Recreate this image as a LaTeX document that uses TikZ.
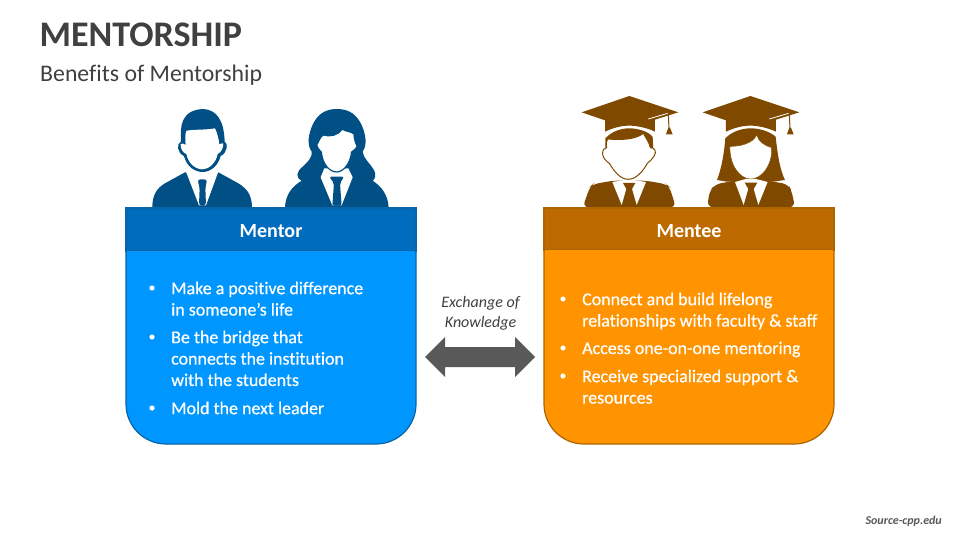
\documentclass[tikz,border=0pt]{standalone}
\usepackage{fontspec}
\setmainfont{Carlito}[Ligatures=NoCommon]
\newfontfamily\medfont{Carlito}[Ligatures=NoCommon,FakeBold=0.5]
\definecolor{blueBody}{HTML}{0096FF}
\definecolor{blueHead}{HTML}{006CBD}
\definecolor{blueEdge}{HTML}{0A64A8}
\definecolor{blueIcon}{HTML}{004F85}
\definecolor{orBody}{HTML}{FF9300}
\definecolor{orHead}{HTML}{BD6B00}
\definecolor{orEdge}{HTML}{AD6500}
\definecolor{orIcon}{HTML}{7F4A00}
\definecolor{arrowGrey}{HTML}{595959}
\definecolor{titleGrey}{HTML}{404040}
\tikzset{
  cardhead/.style={line width=1.2pt},
  headtext/.style={font=\fontsize{20}{24}\selectfont\bfseries,text=white,anchor=center},
  bullettext/.style={font=\fontsize{17.95}{21.4}\medfont,text=white,align=left,anchor=north west,inner sep=0pt},
  dotnode/.style={circle,fill=white,minimum size=5.2pt,inner sep=0pt},
}
\begin{document}
\begin{tikzpicture}[x=1pt,y=-1pt]
\useasboundingbox (0,0) rectangle (960,540);
\fill[white] (0,0) rectangle (960,540);

\node[anchor=west,inner sep=0pt,font=\fontsize{36}{40}\selectfont\bfseries,text=titleGrey] (title) at (39.5,35) {MENTORSHIP};
\node[anchor=west,inner sep=0pt,font=\fontsize{23.8}{28}\selectfont,text=titleGrey] (subtitle) at (40,75) {Benefits of Mentorship};

% ---------- mentor icons
\begin{scope}[shift={(120,90)},x=0.3333pt,y=-0.3333pt]
  % man
  \fill[blueIcon] (97,352) .. controls (97,315) and (110,295) .. (135,280) -- (195,247) -- (295,247) -- (355,280) .. controls (380,295) and (396,315) .. (396,352) -- cycle;
  \fill[white] (198,245) -- (295,245) -- (258,346) -- (237,346) -- cycle;
  \fill[blueIcon,rounded corners=3pt] (232,268) -- (262,268) -- (256,292) -- (258,347) -- (237,347) -- (239,292) -- cycle;
  \fill[blueIcon] (183,155) .. controls (180,110) and (182,60) .. (250,57)
     .. controls (290,60) and (312,90) .. (314,155) .. controls (325,158) and (322,190) .. (302,198)
     .. controls (292,235) and (265,246) .. (248,246) .. controls (225,246) and (200,230) .. (192,198)
     .. controls (172,190) and (168,160) .. (183,155) -- cycle;
  \fill[white] (197,165) .. controls (195,145) and (195,130) .. (200,122)
     .. controls (225,118) and (260,120) .. (285,115) .. controls (292,130) and (296,145) .. (298,163)
     .. controls (303,163) and (306,158) .. (309,160) .. controls (312,172) and (303,188) .. (293,192)
     .. controls (288,220) and (265,238) .. (248,238) .. controls (225,238) and (205,220) .. (199,192)
     .. controls (190,190) and (180,175) .. (182,162) .. controls (187,158) and (192,162) .. (197,165) -- cycle;
  % woman
  \fill[blueIcon] (495,352) .. controls (497,315) and (515,290) .. (545,272)
     .. controls (525,262) and (530,245) .. (548,230) .. controls (565,215) and (578,200) .. (575,185)
     .. controls (560,165) and (565,130) .. (580,100) .. controls (595,70) and (620,57) .. (650,57)
     .. controls (690,57) and (710,75) .. (725,105) .. controls (738,135) and (742,165) .. (728,185)
     .. controls (730,205) and (750,220) .. (762,240) .. controls (770,255) and (765,268) .. (758,272)
     .. controls (785,290) and (804,315) .. (806,352) -- cycle;
  \fill[white] (602,262) -- (613,235) -- (685,235) -- (698,262) -- (665,346) -- (637,346) -- cycle;
  \fill[blueIcon,rounded corners=2pt] (628,260) -- (672,260) -- (660,280) -- (665,347) -- (637,347) -- (642,280) -- cycle;
  \fill[white,draw=blueIcon,line width=1.2pt] (590,165) .. controls (597,155) and (600,140) .. (610,135)
     .. controls (630,142) and (655,135) .. (667,118) .. controls (680,125) and (695,125) .. (702,132)
     .. controls (703,150) and (707,160) .. (712,170) .. controls (708,178) and (700,180) .. (695,186)
     .. controls (690,225) and (668,246) .. (650,246) .. controls (630,246) and (608,225) .. (604,186)
     .. controls (598,180) and (592,175) .. (590,165) -- cycle;
\end{scope}

% ---------- mentee icons
\begin{scope}[shift={(540,85)},x=0.3333pt,y=-0.3333pt]
  % man
  \fill[orIcon,rounded corners=6pt] (128,367) -- (150,305) -- (158,298) -- (218,287) -- (318,287) -- (380,298) -- (388,305) -- (408,367) -- cycle;
  \fill[white] (217,291) -- (265,283) -- (318,291) -- (290,360) -- (267,318) -- (245,360) -- cycle;
  \fill[orIcon] (249,294) -- (286,294) -- (276,312) -- (290,361) -- (245,361) -- (259,312) -- cycle;
  \fill[orIcon] (196,160) .. controls (215,140) and (240,130) .. (268,130) .. controls (295,130) and (325,140) .. (338,155) -- (340,195) -- (196,195) -- cycle;
  \fill[white,draw=orIcon,line width=1pt] (200,188) .. controls (198,175) and (198,170) .. (203,162)
     .. controls (240,165) and (285,165) .. (310,145) .. controls (318,160) and (328,172) .. (331,188)
     .. controls (345,188) and (350,200) .. (343,212) .. controls (338,222) and (330,228) .. (322,235)
     .. controls (310,258) and (288,283) .. (265,283) .. controls (240,283) and (222,258) .. (208,235)
     .. controls (198,228) and (190,220) .. (188,208) .. controls (187,195) and (192,188) .. (200,188) -- cycle;
  % woman
  \fill[orIcon,rounded corners=6pt] (502,367) -- (508,320) -- (525,298) -- (585,287) -- (683,287) -- (745,298) -- (755,318) -- (765,367) -- cycle;
  \fill[orIcon] (556,160) .. controls (575,140) and (605,130) .. (632,130) .. controls (660,130) and (690,140) .. (707,155)
     .. controls (712,200) and (718,250) .. (735,285) -- (700,290) -- (560,290) -- (531,285) .. controls (545,250) and (553,200) .. (556,160) -- cycle;
  \fill[white] (585,291) -- (632,278) -- (683,291) -- (655,360) -- (633,318) -- (611,360) -- cycle;
  \fill[orIcon] (614,293) -- (652,293) -- (641,312) -- (655,361) -- (611,361) -- (625,312) -- cycle;
  \fill[white,draw=orIcon,line width=0.4pt] (570,184) .. controls (600,185) and (640,175) .. (650,150)
     .. controls (655,170) and (675,183) .. (695,188) .. controls (698,240) and (665,282) .. (632,282)
     .. controls (600,282) and (568,240) .. (570,184) -- cycle;
  % caps
  \foreach \dx in {0,363}{
    \begin{scope}[shift={(\dx,0)}]
      \fill[orIcon] (125,82) -- (268,33) -- (415,82) -- (345,104) -- (345,140) .. controls (320,128) and (290,122) .. (268,122) .. controls (245,122) and (220,128) .. (195,140) -- (195,106) -- cycle;
      \draw[white,line width=0.8pt] (325,102) -- (383,85);
      \draw[orIcon,line width=1pt] (385,84) -- (387,132);
      \fill[orIcon] (385,128) -- (390,128) -- (398,148) -- (378,148) -- cycle;
    \end{scope}
  }
\end{scope}

% ---------- mentor card
\draw[fill=blueBody,draw=blueEdge,line width=1.2pt] (126,240) [rounded corners=40pt] -- (126,444) -- (416,444) [sharp corners] -- (416,240) -- cycle;
\fill[blueHead,draw=blueEdge,cardhead] (126,208) rectangle (416,251);
\fill[blueBody] (126.6,251) rectangle (415.4,253);
\node[headtext] (mentorhead) at (271,231) {Mentor};
\node[dotnode] (mb1) at (152,288) {};
\node[bullettext] (mt1) at (171,281.5) {Make a positive difference\\in someone’s life};
\node[dotnode] (mb2) at (152,337) {};
\node[bullettext] (mt2) at (171,330.5) {Be the bridge that\\connects the institution\\with the students};
\node[dotnode] (mb3) at (152,408) {};
\node[bullettext] (mt3) at (171,401.5) {Mold the next leader};

% ---------- mentee card
\draw[fill=orBody,draw=orEdge,line width=1.2pt] (544,240) [rounded corners=40pt] -- (544,444) -- (834,444) [sharp corners] -- (834,240) -- cycle;
\fill[orHead,draw=orEdge,cardhead] (544,208) rectangle (834,250);
\fill[orBody] (544.6,250) rectangle (833.4,252);
\node[headtext] (menteehead) at (689,231) {Mentee};
\node[dotnode] (eb1) at (563,299) {};
\node[bullettext] (et1) at (582,292.5) {Connect and build lifelong\\relationships with faculty \& staff};
\node[dotnode] (eb2) at (563,348) {};
\node[bullettext] (et2) at (582,341.5) {Access one-on-one mentoring};
\node[dotnode] (eb3) at (563,376) {};
\node[bullettext] (et3) at (582,369.5) {Receive specialized support \&\\resources};

% ---------- exchange
\node[align=center,inner sep=0pt,font=\fontsize{16}{19.5}\selectfont\itshape,text=titleGrey] (exch) at (480.5,313.5) {Exchange of\\Knowledge};
\fill[arrowGrey] (425,357) -- (445,337) -- (445,347) -- (515,347) -- (515,337) -- (535,357) -- (515,377) -- (515,367) -- (445,367) -- (445,377) -- cycle;

\node[anchor=east,inner sep=0pt,font=\fontsize{12}{14}\selectfont\bfseries\itshape,text=arrowGrey] (source) at (942,521) {Source-cpp.edu};
\end{tikzpicture}
\end{document}
